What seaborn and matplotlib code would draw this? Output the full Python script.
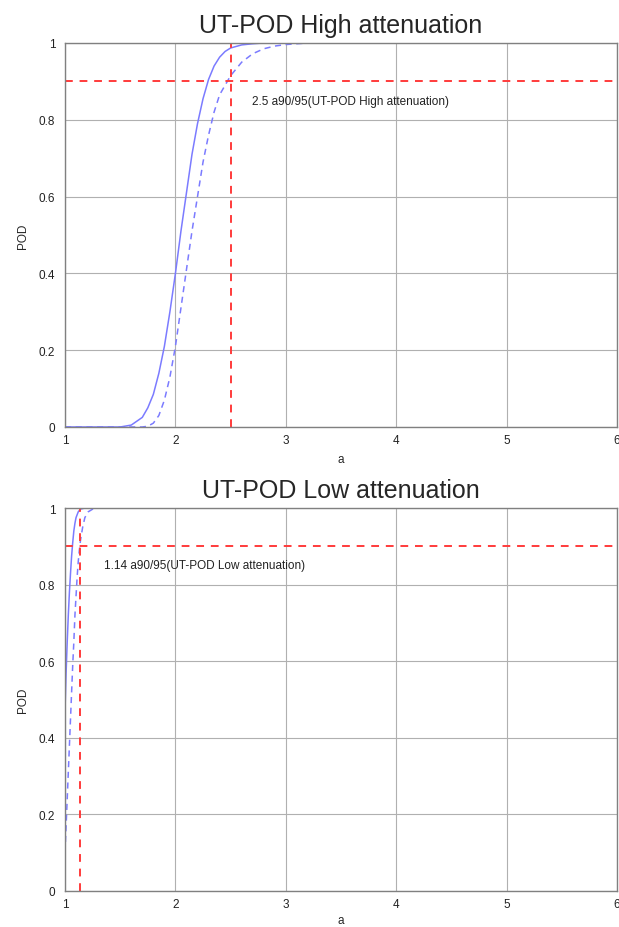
"""POD curves for UT inspection, high and low attenuation"""

import matplotlib
matplotlib.use("Agg")
import matplotlib.pyplot as plt
import pandas as pd
import seaborn as sns

# High attenuation: POD fit and 95% lower bound
high_a = [1.0, 1.5, 1.6, 1.7, 1.75, 1.8, 1.85, 1.9, 1.95, 2.0, 2.05, 2.1, 2.15, 2.2,
          2.25, 2.3, 2.35, 2.4, 2.45, 2.5, 2.6, 2.7, 2.8, 3.0, 6.0]
high_pod = [0.0, 0.0, 0.005, 0.025, 0.05, 0.085, 0.14, 0.21, 0.30, 0.40, 0.51, 0.61, 0.71, 0.79,
            0.855, 0.905, 0.94, 0.963, 0.978, 0.987, 0.995, 0.998, 1.0, 1.0, 1.0]
high_lb_a = [1.0, 1.7, 1.75, 1.8, 1.85, 1.9, 1.95, 2.0, 2.05, 2.1, 2.15, 2.2, 2.25, 2.3,
             2.35, 2.4, 2.45, 2.5, 2.6, 2.7, 2.8, 2.9, 3.0, 3.2, 6.0]
high_lb_pod = [0.0, 0.0, 0.002, 0.01, 0.03, 0.07, 0.13, 0.21, 0.31, 0.41, 0.51, 0.60, 0.69, 0.76,
               0.82, 0.865, 0.89, 0.915, 0.95, 0.972, 0.985, 0.992, 0.996, 1.0, 1.0]

# Low attenuation
low_a = [1.0, 1.005, 1.01, 1.02, 1.03, 1.04, 1.05, 1.06, 1.07, 1.08, 1.09, 1.1,
         1.12, 1.14, 1.18, 6.0]
low_pod = [0.47, 0.52, 0.57, 0.65, 0.72, 0.78, 0.83, 0.875, 0.91, 0.94, 0.96, 0.975,
           0.99, 0.997, 1.0, 1.0]
low_lb_a = [1.0, 1.01, 1.02, 1.03, 1.04, 1.05, 1.06, 1.07, 1.08, 1.09, 1.1, 1.11, 1.12,
            1.13, 1.14, 1.16, 1.18, 1.21, 1.25, 1.3, 6.0]
low_lb_pod = [0.10, 0.17, 0.24, 0.31, 0.38, 0.45, 0.52, 0.59, 0.65, 0.72, 0.77, 0.82, 0.86,
              0.89, 0.915, 0.95, 0.975, 0.99, 0.997, 1.0, 1.0]

titles = ["UT-POD High attenuation", "UT-POD Low attenuation"]
a9095 = [2.5, 1.14]
pod_level = 0.9
x_ticks = [1, 2, 3, 4, 5, 6]
y_ticks = [0, 0.2, 0.4, 0.6, 0.8, 1]
y_tick_labels = ["0", "0.2", "0.4", "0.6", "0.8", "1"]

sns.set_theme(style="white")
plt.rcParams["font.family"] = ["Liberation Sans", "DejaVu Sans"]

fig = plt.figure(figsize=(6.19, 9.28), dpi=100)
ax_top = fig.add_axes([0.105, 0.5388, 0.892, 0.4138])
ax_bot = fig.add_axes([0.105, 0.0388, 0.892, 0.4127])

blue = "#7b7bff"
red = "#ff3b3b"
curves = [
    (high_a, high_pod, high_lb_a, high_lb_pod),
    (low_a, low_pod, low_lb_a, low_lb_pod),
]
text_x = [2.69, 1.35]

for ax, title, (xa, ya, xb, yb), a_val, tx in zip([ax_top, ax_bot], titles, curves, a9095, text_x):
    fit = pd.DataFrame({"a": xa, "POD": ya})
    lb = pd.DataFrame({"a": xb, "POD": yb})
    sns.lineplot(data=fit, x="a", y="POD", ax=ax, color=blue, lw=1.1, sort=False)
    sns.lineplot(data=lb, x="a", y="POD", ax=ax, color=blue, lw=1.1, linestyle=(0, (4, 3)), sort=False)
    ax.axhline(pod_level, color=red, lw=1.4, linestyle=(0, (4, 3.5)))
    ax.axvline(a_val, color=red, lw=1.4, linestyle=(0, (4, 3.5)))
    ax.text(tx, 0.85, f"{a_val:g} a90/95({title})", fontsize=8.5, color="#222222", va="center")

    ax.set_xlim(1, 6)
    ax.set_ylim(0, 1)
    ax.set_xticks(x_ticks)
    ax.set_yticks(y_ticks)
    ax.set_yticklabels(y_tick_labels)
    ax.grid(True, color="#b0b0b0", lw=0.8)
    ax.tick_params(labelsize=8.5, length=0, colors="#222222")
    ax.tick_params(axis="y", pad=7)
    ax.tick_params(axis="x", pad=5)
    for sp in ax.spines.values():
        sp.set_color("#808080")
        sp.set_linewidth(1.0)
    ax.set_title(title, fontsize=18, pad=8)
    ax.set_ylabel("POD", fontsize=8.5, labelpad=7)

ax_top.set_xlabel("a", fontsize=8.5, labelpad=5)
ax_bot.set_xlabel("a", fontsize=8.5, labelpad=3)

fig.savefig("out.png", dpi=100)
plt.close(fig)
